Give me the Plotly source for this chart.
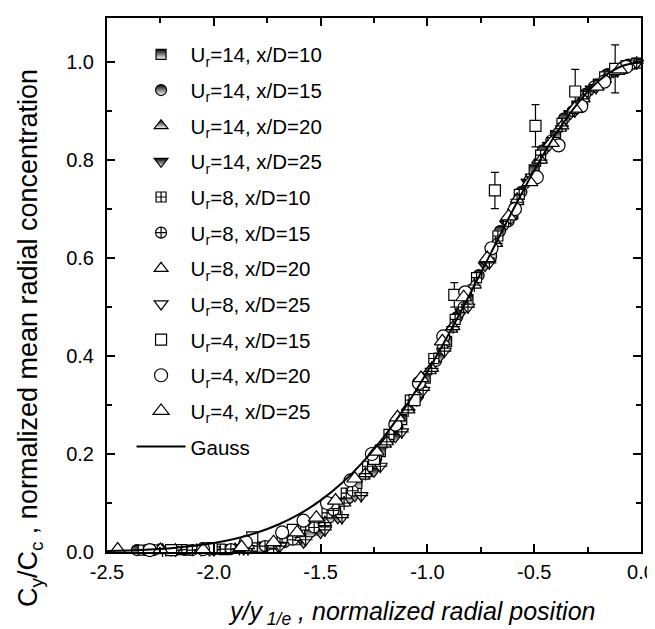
import plotly.graph_objects as go

# ---------------- data ----------------
a_x = [-2.30, -2.12, -1.95, -1.78, -1.62, -1.52, -1.43, -1.33, -1.22, -1.12, -1.01, -0.91, -0.81, -0.70, -0.60, -0.50, -0.40, -0.30, -0.20, -0.10, -0.02]
a_y = [0.004, 0.004, 0.005, 0.010, 0.025, 0.045, 0.085, 0.14, 0.205, 0.27, 0.355, 0.43, 0.515, 0.61, 0.69, 0.78, 0.85, 0.91, 0.955, 0.985, 0.998]

b_x = [-2.36, -2.18, -2.00, -1.83, -1.67, -1.55, -1.46, -1.37, -1.27, -1.17, -1.06, -0.96, -0.86, -0.76, -0.66, -0.56, -0.46, -0.36, -0.26, -0.16, -0.06]
b_y = [0.004, 0.004, 0.005, 0.008, 0.02, 0.04, 0.07, 0.11, 0.165, 0.235, 0.31, 0.39, 0.48, 0.565, 0.655, 0.735, 0.82, 0.885, 0.935, 0.975, 0.995]

c_x = [-2.26, -2.08, -1.90, -1.74, -1.60, -1.49, -1.40, -1.30, -1.20, -1.09, -0.99, -0.89, -0.78, -0.68, -0.58, -0.48, -0.38, -0.28, -0.18, -0.08]
c_y = [0.004, 0.004, 0.006, 0.012, 0.03, 0.06, 0.10, 0.155, 0.22, 0.295, 0.37, 0.455, 0.545, 0.63, 0.715, 0.80, 0.865, 0.92, 0.96, 0.99]

d_x = [-2.20, -2.02, -1.86, -1.70, -1.58, -1.50, -1.42, -1.34, -1.25, -1.15, -1.05, -0.94, -0.84, -0.73, -0.63, -0.53, -0.43, -0.33, -0.23, -0.13, -0.04]
d_y = [0.004, 0.004, 0.006, 0.012, 0.02, 0.04, 0.07, 0.115, 0.165, 0.235, 0.31, 0.40, 0.49, 0.585, 0.67, 0.755, 0.83, 0.895, 0.945, 0.98, 0.997]

e_x = [-2.33, -2.15, -1.97, -1.82, -1.68, -1.57, -1.47, -1.38, -1.28, -1.18, -1.08, -0.97, -0.87, -0.77, -0.67, -0.57, -0.47, -0.37, -0.27, -0.17, -0.07]
e_y = [0.004, 0.005, 0.006, 0.012, 0.03, 0.055, 0.08, 0.12, 0.175, 0.24, 0.31, 0.395, 0.475, 0.56, 0.645, 0.73, 0.81, 0.875, 0.93, 0.97, 0.993]

f_x = [-2.28, -2.10, -1.92, -1.76, -1.63, -1.53, -1.44, -1.35, -1.24, -1.14, -1.03, -0.93, -0.83, -0.72, -0.62, -0.52, -0.42, -0.32, -0.22, -0.12, -0.03]
f_y = [0.004, 0.004, 0.006, 0.012, 0.025, 0.05, 0.085, 0.125, 0.19, 0.255, 0.335, 0.415, 0.50, 0.595, 0.675, 0.76, 0.84, 0.90, 0.95, 0.982, 0.997]

g_x = [-2.24, -2.06, -1.88, -1.72, -1.59, -1.48, -1.39, -1.29, -1.19, -1.09, -0.98, -0.88, -0.78, -0.68, -0.58, -0.47, -0.37, -0.27, -0.17, -0.07]
g_y = [0.004, 0.005, 0.007, 0.014, 0.03, 0.06, 0.10, 0.16, 0.225, 0.29, 0.375, 0.46, 0.545, 0.63, 0.72, 0.80, 0.87, 0.925, 0.965, 0.99]

h_x = [-2.18, -2.00, -1.84, -1.69, -1.57, -1.48, -1.40, -1.31, -1.22, -1.12, -1.02, -0.92, -0.81, -0.71, -0.61, -0.51, -0.41, -0.31, -0.21, -0.11, -0.02]
h_y = [0.004, 0.005, 0.007, 0.012, 0.025, 0.045, 0.07, 0.115, 0.175, 0.245, 0.33, 0.41, 0.50, 0.59, 0.68, 0.765, 0.84, 0.90, 0.948, 0.982, 0.998]

i_x = [-2.20, -2.01, -1.82, -1.63, -1.44, -1.25, -1.06, -0.874, -0.684, -0.494, -0.308, -0.121]
i_y = [0.004, 0.008, 0.03, 0.045, 0.10, 0.19, 0.31, 0.525, 0.738, 0.870, 0.940, 0.986]
i_err = [None, None, None, None, None, None, None, 0.025, 0.037, 0.043, 0.045, 0.049]

j_x = [-2.30, -2.05, -1.85, -1.68, -1.58, -1.47, -1.36, -1.26, -1.15, -1.04, -0.926, -0.823, -0.70, -0.59, -0.488, -0.386, -0.28, -0.172, -0.07]
j_y = [0.004, 0.006, 0.02, 0.04, 0.064, 0.10, 0.146, 0.20, 0.26, 0.345, 0.44, 0.53, 0.62, 0.70, 0.765, 0.83, 0.91, 0.96, 0.99]

k_x = [-2.45, -2.25, -2.05, -1.87, -1.72, -1.61, -1.52, -1.43, -1.34, -1.24, -1.14, -1.03, -0.93, -0.83, -0.72, -0.62, -0.52, -0.42, -0.31, -0.21, -0.10]
k_y = [0.005, 0.004, 0.005, 0.01, 0.02, 0.04, 0.07, 0.105, 0.15, 0.205, 0.275, 0.355, 0.43, 0.52, 0.60, 0.685, 0.755, 0.835, 0.905, 0.95, 0.985]

gauss_x = [-2.5, -2.4, -2.3, -2.2, -2.1, -2.0, -1.9, -1.8, -1.7, -1.6, -1.5, -1.4, -1.3, -1.2, -1.1, -1.0,
           -0.9, -0.8, -0.7, -0.6, -0.5, -0.4, -0.3, -0.2, -0.1, 0.0]
gauss_y = [0.0019, 0.0032, 0.0050, 0.0079, 0.0122, 0.0183, 0.0271, 0.0392, 0.0556, 0.0773, 0.1054, 0.1409,
           0.1845, 0.2369, 0.2982, 0.3679, 0.4449, 0.5273, 0.6126, 0.6977, 0.7788, 0.8521, 0.9139, 0.9608,
           0.9900, 1.0]

names = ["U<sub>r</sub>=14, x/D=10", "U<sub>r</sub>=14, x/D=15", "U<sub>r</sub>=14, x/D=20",
         "U<sub>r</sub>=14, x/D=25", "U<sub>r</sub>=8, x/D=10", "U<sub>r</sub>=8, x/D=15",
         "U<sub>r</sub>=8, x/D=20", "U<sub>r</sub>=8, x/D=25", "U<sub>r</sub>=4, x/D=15",
         "U<sub>r</sub>=4, x/D=20", "U<sub>r</sub>=4, x/D=25"]

x_ticks = [-2.5, -2.0, -1.5, -1.0, -0.5, 0.0]
x_ticktext = ["-2.5", "-2.0", "-1.5", "-1.0", "-0.5", "0.0"]
y_ticks = [0.0, 0.2, 0.4, 0.6, 0.8, 1.0]
y_ticktext = ["0.0", "0.2", "0.4", "0.6", "0.8", "1.0"]

x_title = "<i>y/y<sub> 1/e</sub> , normalized radial position</i>"
y_title = "C<sub>y</sub>/C<sub>c</sub> , normalized mean radial concentration"

FONT = "Liberation Sans, Arial, sans-serif"

fig = go.Figure()

def half(x, y, name, symbol, size, grp):
    fig.add_trace(go.Scatter(
        x=x, y=y, mode="markers", name=name, legendgroup=grp, cliponaxis=False,
        marker=dict(symbol=symbol, size=size, color="black",
                    gradient=dict(type="vertical", color="white"),
                    line=dict(color="black", width=1.2))))

def openm(x, y, name, symbol, size, grp, cross=False, err=None):
    fig.add_trace(go.Scatter(
        x=x, y=y, mode="markers", name=name, legendgroup=grp, cliponaxis=False,
        error_y=(dict(type="data", array=err, visible=True, color="black", thickness=1.2, width=4)
                 if err is not None else None),
        marker=dict(symbol=symbol, size=size, color="white",
                    line=dict(color="black", width=1.2))))
    if cross:
        fig.add_trace(go.Scatter(
            x=x, y=y, mode="markers", showlegend=False, legendgroup=grp, cliponaxis=False,
            hoverinfo="skip",
            marker=dict(symbol="cross-thin", size=size - 2, color="black",
                        line=dict(color="black", width=1.2))))

half(a_x, a_y, names[0], "square", 10, "a")
half(b_x, b_y, names[1], "circle", 11, "b")
half(c_x, c_y, names[2], "triangle-up", 12, "c")
half(d_x, d_y, names[3], "triangle-down", 12, "d")
openm(e_x, e_y, names[4], "square-cross", 10, "e")
openm(f_x, f_y, names[5], "circle-cross", 11, "f")
openm(g_x, g_y, names[6], "triangle-up", 12, "g", cross=True)
openm(h_x, h_y, names[7], "triangle-down", 12, "h", cross=True)
openm(i_x, i_y, names[8], "square", 11, "i", err=i_err)
openm(j_x, j_y, names[9], "circle", 13, "j")
openm(k_x, k_y, names[10], "triangle-up", 14, "k")

fig.add_trace(go.Scatter(x=gauss_x, y=gauss_y, mode="lines", name="Gauss", legendgroup="z",
                         line=dict(color="black", width=2, shape="spline")))

axis_common = dict(
    showline=True, linewidth=2, linecolor="black", mirror="allticks",
    ticks="inside", ticklen=8, tickwidth=1.5, tickcolor="black",
    showgrid=False, zeroline=False,
    tickfont=dict(family=FONT, size=20, color="black"),
)

fig.update_layout(
    width=655, height=629,
    margin=dict(l=99, r=18, t=8, b=85),
    paper_bgcolor="white", plot_bgcolor="white",
    font=dict(family=FONT, color="black", size=20),
    showlegend=True,
    legend=dict(x=0.046, y=0.969, xanchor="left", yanchor="top",
                bgcolor="rgba(0,0,0,0)", borderwidth=0,
                font=dict(family=FONT, size=20.5, color="black"),
                itemwidth=49, tracegroupgap=6, traceorder="grouped"),
    xaxis=dict(range=[-2.5, 0.0], tickvals=x_ticks, ticktext=x_ticktext, ticklabelstandoff=1,
               minor=dict(dtick=0.25, ticks="inside", ticklen=5, tickwidth=1.5, tickcolor="black"),
               **axis_common),
    yaxis=dict(range=[0.0, 1.09], tickvals=y_ticks, ticktext=y_ticktext, ticklabelstandoff=7,
               minor=dict(dtick=0.1, ticks="inside", ticklen=5, tickwidth=1.5, tickcolor="black"),
               **axis_common),
    annotations=[
        dict(text=x_title, xref="paper", yref="paper", x=0.571, y=-0.114,
             xanchor="center", yanchor="middle", showarrow=False,
             font=dict(family=FONT, size=25, color="black")),
        dict(text=y_title, xref="paper", yref="paper", x=-0.143, y=0.40,
             xanchor="center", yanchor="middle", showarrow=False, textangle=-90,
             font=dict(family=FONT, size=27, color="black")),
    ],
)

fig.write_html("out.html")
